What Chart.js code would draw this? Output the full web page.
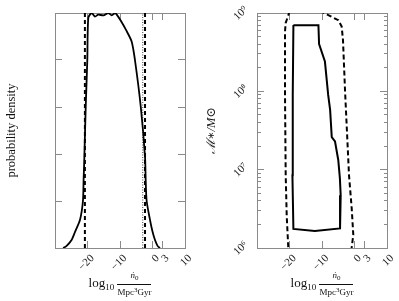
<!DOCTYPE html>
<html>
<head>
<meta charset="utf-8">
<script src="https://cdn.jsdelivr.net/npm/chart.js@4/dist/chart.umd.min.js"></script>
<style>
  body { margin: 0; background: #fff; width: 399px; height: 301px; overflow: hidden; position: relative;
         font-family: "Liberation Serif", "DejaVu Serif", serif; color: #111; }
  #left { position: absolute; left: 0; top: 0; }
  #right { position: absolute; left: 200px; top: 0; }
  .xt { position: absolute; top: 271px; width: 120px; margin-left: -60px; text-align: center;
        font-size: 13px; white-space: nowrap; line-height: 13px; }
  .xt sub { font-size: 9px; vertical-align: -3px; }
  .frac { display: inline-block; vertical-align: middle; font-size: 9px; line-height: 9px; text-align: center; }
  .frac .num { display: block; border-bottom: 1px solid #111; padding: 0 1px 1px; font-style: italic; }
  .frac .num sub { font-size: 7px; vertical-align: -2px; font-style: normal; }
  .frac .den { display: block; padding-top: 1px; }
  .frac .den sup { font-size: 7px; vertical-align: 3px; }
</style>
</head>
<body>
<canvas id="left" width="200" height="301"></canvas>
<canvas id="right" width="199" height="301"></canvas>
<div class="xt" style="left:120px">log<sub>10</sub> <span class="frac"><span class="num">ṅ<sub>0</sub></span><span class="den">Mpc<sup>3</sup>Gyr</span></span></div>
<div class="xt" style="left:322px">log<sub>10</sub> <span class="frac"><span class="num">ṅ<sub>0</sub></span><span class="den">Mpc<sup>3</sup>Gyr</span></span></div>
<script>
// axis ticks
const xTicks = [-20, -10, 0, 3, 10];
const xLabels = ["\u221220", "\u221210", "0", "3", "10"];
const densityTicks = [0, 0.2, 0.4, 0.6, 0.8, 1.0];
const massTicks = [1e6, 1e7, 1e8, 1e9];
const massLabels = ["10\u2076", "10\u2077", "10\u2078", "10\u2079"];

// left panel: marginal density of log10 n0
const densN = [-27.5, -26.5, -24.9, -23.8, -22.3, -21.4, -21.2, -21.0, -20.55, -20.06, -19.75, -18.7, -17.7,
  -16.7, -15.1, -13.6, -12.55, -11.5, -11.0, -9.7, -8.15, -6.4, -5.4, -3.6, -2.3, -2.1, -1.8, -0.77, 0.0,
  0.77, 1.6, 2.3];
const densP = [0, 0.008, 0.034, 0.07, 0.12, 0.2, 0.29, 0.37, 0.6, 0.8, 0.98, 1.0, 0.985, 0.993, 0.99, 1.0,
  0.99, 1.0, 0.993, 0.966, 0.928, 0.878, 0.8, 0.6, 0.387, 0.29, 0.2, 0.12, 0.07, 0.034, 0.008, 0];
const intervalN = [-20.8, -2.3];
const trueN = -3.0;

// right panel: joint contours (log10 n0, M*)
const solidN = [-18.8, -11.1, -10.9, -9.1, -8.1, -7.5, -7.0, -6.0, -5.0, -4.5, -4.25, -4.45, -12.2, -18.8,
  -19.1, -19.0, -18.8];
const solidM = [7.0e8, 7.0e8, 4.0e8, 2.4e8, 9.0e7, 5.8e7, 2.6e7, 2.3e7, 1.33e7, 7.8e6, 4.7e6, 1.78e6, 1.65e6,
  1.75e6, 8.5e6, 9.0e7, 7.0e8];
const dashN = [-20.3, -20.37, -20.86, -21.17, -21.38, -21.38, -21.2, -20.06, -18.3, -13.7, -10.0, -8.06, -4.98,
  -3.94, -3.54, -2.92, -1.69, -0.86, -0.37, -0.86, -1.23];
const dashM = [8.1e5, 1.0e6, 2.6e6, 8.5e6, 9.0e7, 5.75e8, 7.4e8, 1.02e9, 1.23e9, 1.35e9, 1.03e9, 9.4e8, 8.1e8,
  6.7e8, 4.5e8, 1.04e8, 8.5e6, 3.2e6, 1.47e6, 1.02e6, 8.1e5];

const SERIF = '"Liberation Serif", "DejaVu Serif", serif';
const FRAME = "#8a8a8a";
const TICK = -7;

function pts(xs, ys) {
  return xs.map((x, i) => ({ x, y: ys[i] }));
}

function isDecade(v) {
  const l = Math.log10(v);
  return Math.abs(l - Math.round(l)) < 1e-9;
}

function logTicks() {
  const out = [];
  const lo = Math.log10(massTicks[0]);
  const hi = Math.log10(massTicks[massTicks.length - 1]);
  for (let e = lo; e <= hi; e++) {
    for (let k = 1; k <= 9; k++) {
      const v = k * Math.pow(10, e);
      if (v <= massTicks[massTicks.length - 1] * 1.0001) out.push({ value: v, major: k === 1 });
    }
  }
  return out;
}

// fixed box size, and no extra room asked for label overhang
function fixBox(prop, px) {
  return (s) => {
    s[prop] = px;
    s.paddingLeft = 0;
    s.paddingRight = 0;
    s.paddingTop = 0;
    s.paddingBottom = 0;
  };
}

function xAxis(position, size, showLabels) {
  return {
    type: "linear",
    position,
    min: -30,
    max: 10,
    afterBuildTicks: (s) => { s.ticks = xTicks.map((v) => ({ value: v })); },
    afterFit: fixBox("height", size),
    grid: { drawOnChartArea: false, tickLength: TICK, color: FRAME },
    border: { color: FRAME },
    ticks: {
      display: showLabels,
      autoSkip: false,
      minRotation: 45,
      maxRotation: 45,
      padding: 11,
      labelOffset: 5,
      color: "#222",
      font: { family: SERIF, size: 11 },
      callback: (v, i) => xLabels[i],
    },
  };
}

function line(data, opts) {
  return Object.assign({
    data,
    showLine: true,
    pointRadius: 0,
    borderColor: "#000",
    borderWidth: 2,
    tension: 0,
    fill: false,
  }, opts);
}

function baseOptions(scales, padRight) {
  return {
    responsive: false,
    animation: false,
    events: [],
    layout: { padding: { left: 0, top: 13, right: padRight, bottom: 0 } },
    plugins: { legend: { display: false }, tooltip: { enabled: false } },
    scales,
  };
}

const yTitle = (text, italic) => ({
  display: true,
  text,
  color: "#111",
  font: { family: SERIF, size: 12.5, style: italic ? "italic" : "normal" },
  padding: { top: 4, bottom: 0 },
});

// left panel
const densLo = densityTicks[0];
const densHi = densityTicks[densityTicks.length - 1];
new Chart(document.getElementById("left"), {
  type: "scatter",
  data: {
    datasets: [
      line(pts(densN, densP), { borderWidth: 1.8, tension: 0.25 }),
      line(pts([intervalN[0], intervalN[0]], [densLo, densHi]), { borderDash: [4, 3] }),
      line(pts([intervalN[1], intervalN[1]], [densLo, densHi]), { borderDash: [4, 3] }),
      line(pts([trueN, trueN], [densLo, densHi]), { borderDash: [1, 1.5], borderWidth: 1, borderColor: "#444" }),
    ],
  },
  options: baseOptions({
    x: xAxis("bottom", 53, true),
    x2: xAxis("top", 0, false),
    y: {
      type: "linear",
      position: "left",
      min: densLo,
      max: densHi,
      afterBuildTicks: (s) => { s.ticks = densityTicks.map((v) => ({ value: v })); },
      afterFit: fixBox("width", 55),
      grid: { drawOnChartArea: false, tickLength: TICK, color: FRAME },
      border: { color: FRAME },
      ticks: { display: false },
      title: yTitle("probability density", false),
    },
    y2: {
      type: "linear",
      position: "right",
      min: densLo,
      max: densHi,
      afterBuildTicks: (s) => { s.ticks = densityTicks.map((v) => ({ value: v })); },
      afterFit: fixBox("width", 0),
      grid: { drawOnChartArea: false, tickLength: TICK, color: FRAME },
      border: { color: FRAME },
      ticks: { display: false },
    },
  }, 15),
});

// right panel
function massAxis(position, size, showLabels, minorDash) {
  return {
    type: "logarithmic",
    position,
    min: massTicks[0],
    max: massTicks[massTicks.length - 1],
    afterBuildTicks: (s) => { s.ticks = logTicks(); },
    afterFit: fixBox("width", size),
    grid: {
      drawOnChartArea: false,
      tickLength: TICK,
      color: FRAME,
      tickBorderDash: (ctx) => (ctx.tick && !isDecade(ctx.tick.value) ? minorDash : []),
    },
    border: { color: FRAME },
    ticks: {
      display: showLabels,
      autoSkip: false,
      minRotation: 45,
      maxRotation: 45,
      padding: 18,
      labelOffset: -5,
      color: "#222",
      font: { family: SERIF, size: 11 },
      callback: (v) => {
        const i = massTicks.findIndex((m) => Math.abs(m - v) / m < 1e-6);
        return i >= 0 ? massLabels[i] : "";
      },
    },
    title: showLabels ? yTitle("\u2133\u2217/M\u2299", true) : undefined,
  };
}

new Chart(document.getElementById("right"), {
  type: "scatter",
  data: {
    datasets: [
      line(pts(dashN, dashM), { borderDash: [5, 3] }),
      line(pts(solidN, solidM), {}),
    ],
  },
  options: baseOptions({
    x: xAxis("bottom", 53, true),
    x2: xAxis("top", 0, false),
    y: massAxis("left", 57, true, [0, 3, 4, 40]),
    y2: massAxis("right", 0, false, [4, 40]),
  }, 12),
});
</script>
</body>
</html>
